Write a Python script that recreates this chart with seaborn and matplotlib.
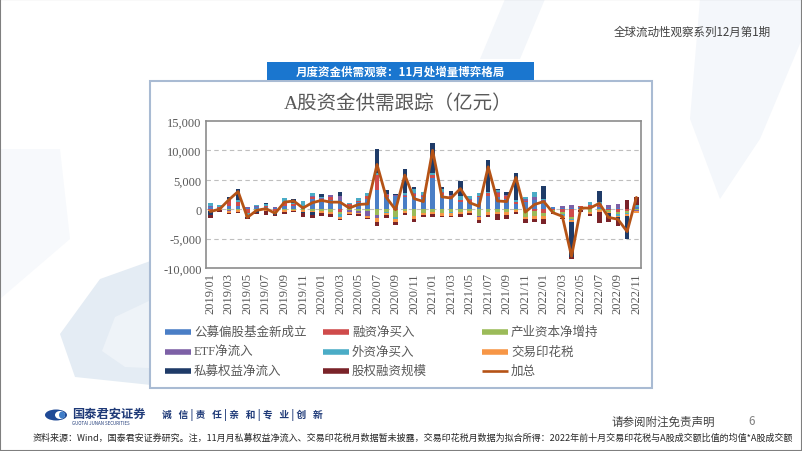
import numpy as np
import pandas as pd
import matplotlib
matplotlib.use("Agg")
import matplotlib.pyplot as plt
import seaborn as sns
from matplotlib.patches import Rectangle, Polygon, Ellipse
from matplotlib.lines import Line2D

# ---------------- data (亿元) ----------------
months = [f"{y}/{m:02d}" for y in range(2019, 2023) for m in range(1, 13)][:47]

fund = [300, 200, 500, 600, 200, 300, 300, 200, 600, 500, 400, 1800,
        1400, 1600, 1600, 500, 1200, 1800, 3200, 2000, 2200, 2000, 2200, 2000,
        5300, 2500, 2000, 1200, 1200, 2000, 2200, 2000, 1800, 900, 1200, 1600,
        1300, 300, 200, 200, 300, 200, 300, 200, 200, 0, 300]
margin = [-100, 100, 1100, 700, -600, 100, 200, -300, 500, 300, 100, 300,
          300, 500, -400, 300, 200, 500, 2700, 500, -100, 300, 400, 300,
          500, 300, 200, 300, 400, 300, 600, 700, 400, 300, 200, -300,
          -700, -200, -500, -1400, 200, 500, 300, -100, -500, -300, 0]
industry = [-100, -50, -200, -100, -100, -100, -100, -100, -200, -100, -200, -300,
            -300, -400, -500, -200, -300, -300, -1000, -500, -1300, -300, -1200, -600,
            -400, -700, -500, -500, -300, -1100, -400, -400, -500, -200, -1300, -900,
            -500, -200, -300, -200, 0, -400, -200, -300, -300, -300, -200]
etf = [200, 100, -100, 0, 100, 100, 0, 200, 100, 100, 100, 200,
       200, 300, 600, -300, -300, -800, -500, 100, 200, 200, 100, 200,
       0, 200, 300, 100, 100, -300, -100, 200, 200, 100, 300, 400,
       300, 100, 300, 500, 0, -100, 200, 500, 700, 0, -100]
foreign = [600, 300, 200, 300, -300, 200, 300, 0, 700, 200, 800, 400,
           200, -100, -400, 300, 500, 500, 300, -100, -300, 200, 800, 400,
           400, 500, -200, 600, 500, 500, 200, 300, 100, 200, 300, 900,
           200, 0, -400, -300, 0, 600, 500, 0, -300, -200, 400]
stamp = [-150, -150, -350, -300, -250, -200, -200, -200, -250, -150, -200, -250,
         -300, -400, -400, -250, -250, -350, -600, -450, -400, -300, -400, -400,
         -500, -400, -400, -350, -350, -400, -500, -500, -500, -300, -450, -450,
         -400, -300, -350, -300, -200, -300, -300, -300, -300, -300, -300]
private = [-700, 0, 300, 1800, -200, -300, 200, -400, -100, 700, -300, -400,
           500, 100, 800, 0, 0, 0, 4100, 600, 200, 4100, 300, 0,
           5100, 300, 600, 2600, 0, 0, 5300, 300, 500, 4600, 0, 0,
           2200, 0, 0, -6000, 0, 0, 1800, -500, -500, -4000, 0]
equity_fin = [-400, -300, -100, -200, -300, -300, -700, -200, -300, -200, -600, -600,
              -500, -400, -200, -200, -300, -300, -700, -400, -600, -400, -500, -400,
              -400, -300, -300, -400, -400, -500, -300, -1000, -700, -400, -600, -600,
              -1000, -200, -200, -300, -200, -400, -1800, -900, -1000, 1500, 1400]
total = [-400, 0, 1600, 3000, -1400, -200, 100, -700, 1200, 1400, 200, 1100,
         1500, 1200, 1200, 200, 800, 900, 7600, 2000, -100, 5800, 1800, 1300,
         10000, 2100, 1900, 3500, 1100, 500, 7200, 1400, 1300, 5400, -500, 800,
         1300, -600, -1200, -8000, 200, 200, 1000, -1400, -1700, -3800, 2000]

series_names = ["公募偏股基金新成立", "融资净买入", "产业资本净增持", "ETF净流入",
                "外资净买入", "交易印花税", "私募权益净流入", "股权融资规模"]
series_vals = [fund, margin, industry, etf, foreign, stamp, private, equity_fin]
series_cols = ["#4A7EC6", "#CF4B4B", "#9BBB59", "#7D60A6",
               "#4BACC6", "#F79646", "#1F3B68", "#7A2329"]
line_name = "加总"
line_col = "#B55316"

ytick_vals = [15000, 10000, 5000, 0, -5000, -10000]

# ---------------- figure ----------------
sns.set_theme(style="white")
plt.rcParams["font.family"] = ["Liberation Serif", "Noto Sans CJK SC", "DejaVu Sans"]
plt.rcParams["axes.unicode_minus"] = False

W, H = 802, 452
fig = plt.figure(figsize=(W / 100, H / 100), dpi=100)
fig.patch.set_facecolor("white")

def fx(x):
    return x / W

def fy(y):
    return 1 - y / H

sans = ["Noto Sans CJK SC", "DejaVu Sans"]

def poly(pts, color, z=0):
    fig.patches.append(Polygon([(fx(a), fy(b)) for a, b in pts], closed=True,
                               transform=fig.transFigure, facecolor=color,
                               edgecolor="none", zorder=z))

# faint slide watermark shapes
poly([(505, 0), (545, 0), (520, 60), (480, 60)], "#F3F6FA")
poly([(700, 0), (802, 0), (802, 40), (760, 140), (720, 200), (690, 120)], "#F4F7FB")
poly([(170, 255), (100, 280), (60, 335), (75, 378), (170, 388)], "#E4ECF4")
poly([(170, 292), (115, 318), (102, 352), (125, 368), (170, 370)], "#EEF3F8")
poly([(0, 150), (60, 150), (70, 240), (0, 300)], "#F7F9FC")

# slide border
fig.patches.append(Rectangle((0, 0), 1, 1, transform=fig.transFigure, fill=False,
                             edgecolor="#7F7F7F", lw=1.5, zorder=10))

# header text
fig.text(fx(771), fy(32), "全球流动性观察系列12月第1期", ha="right", va="center",
         fontsize=8.3, color="#404040", family=sans)

# chart box
fig.patches.append(Rectangle((fx(150), fy(389)), (652 - 150) / W, (389 - 82) / H,
                             transform=fig.transFigure, facecolor="white",
                             edgecolor="#A9BBD3", lw=1.5, zorder=1))
# banner
fig.patches.append(Rectangle((fx(267), fy(81)), (534 - 267) / W, (81 - 62.5) / H,
                             transform=fig.transFigure, facecolor="#1A76CF",
                             edgecolor="none", zorder=2))
fig.text(fx(400), fy(72), "月度资金供需观察：11月处增量博弈格局", ha="center", va="center",
         fontsize=8.3, color="white", fontweight="bold", family=sans, zorder=3)

# chart title
fig.text(fx(398), fy(104), "A股资金供需跟踪（亿元）", ha="center", va="center",
         fontsize=14, color="#595959", zorder=3)

# axes
ax = fig.add_axes([fx(205.7), fy(269), (641 - 205.7) / W, (269 - 122) / H], zorder=4)
ax.set_facecolor("none")
x = np.arange(len(months))
pos_base = np.zeros(len(months))
neg_base = np.zeros(len(months))
for name, vals, col in zip(series_names, series_vals, series_cols):
    v = np.array(vals, dtype=float)
    bottom = np.where(v >= 0, pos_base, neg_base)
    ax.bar(x, v, bottom=bottom, width=0.5, color=col, linewidth=0, zorder=3)
    pos_base = pos_base + np.where(v >= 0, v, 0)
    neg_base = neg_base + np.where(v < 0, v, 0)

df_line = pd.DataFrame({"x": x, "total": total})
sns.lineplot(data=df_line, x="x", y="total", ax=ax, color=line_col, linewidth=2.0,
             zorder=4, solid_joinstyle="round", solid_capstyle="round")

ax.set_xlim(-0.5, len(months) - 0.5)
ax.set_ylim(-10000, 15000)
ax.set_yticks(ytick_vals)
ax.set_yticklabels([f"{v:,}" for v in ytick_vals], fontsize=9, color="#595959")
ax.set_xticks(x[::2])
ax.set_xticklabels(months[::2], rotation=90, fontsize=9, color="#595959")
ax.tick_params(axis="both", length=0, pad=3)
ax.set_xlabel("")
ax.set_ylabel("")
for yv in [10000, 5000, 0, -5000]:
    ax.axhline(yv, color="#BFBFBF", lw=0.8, ls=(0, (4, 3)), zorder=1)
for s in ax.spines.values():
    s.set_visible(True)
    s.set_color("#8C8C8C")
    s.set_linewidth(1.2)

# legend (manual layout)
col_x = [165, 323, 482]
row_y = [333, 352.5, 371.5]
items = list(zip(series_names, series_cols, ["bar"] * 8)) + [(line_name, line_col, "line")]
for i, (name, col, kind) in enumerate(items):
    r, c = divmod(i, 3)
    x0 = col_x[c]
    y0 = row_y[r]
    lw = 4 if kind == "bar" else 1.9
    fig.add_artist(Line2D([fx(x0), fx(x0 + 26)], [fy(y0), fy(y0)], color=col,
                          lw=lw, solid_capstyle="butt", transform=fig.transFigure, zorder=5))
    fig.text(fx(x0 + 29), fy(y0), name, ha="left", va="center", fontsize=9,
             color="#595959", zorder=5)

# footer
fig.patches.append(Ellipse((fx(56), fy(416)), 22 / W, 11 / H, transform=fig.transFigure,
                           facecolor="#1F4A96", edgecolor="none", zorder=3))
fig.patches.append(Ellipse((fx(60), fy(416)), 10 / W, 8 / H, transform=fig.transFigure,
                           facecolor="white", edgecolor="none", zorder=4))
fig.patches.append(Ellipse((fx(62), fy(416)), 6 / W, 7 / H, transform=fig.transFigure,
                           facecolor="#3E7CC8", edgecolor="none", zorder=5))
fig.text(fx(72), fy(414), "国泰君安证券", ha="left", va="center", fontsize=8.8,
         fontweight="bold", color="#1F3A78", family=sans)
fig.text(fx(72), fy(424), "GUOTAI JUNAN SECURITIES", ha="left", va="center", fontsize=3.2,
         color="#1F3A78", family=sans)
fig.text(fx(162), fy(415), "诚   信 | 责   任 | 亲   和 | 专   业 | 创   新", ha="left", va="center",
         fontsize=7, fontweight="bold", color="#1F3A78", family=sans)
fig.text(fx(611), fy(422), "请参阅附注免责声明", ha="left", va="center", fontsize=8.3,
         color="#404040", family=sans)
fig.text(fx(748), fy(422), "6", ha="left", va="center", fontsize=8.3,
         color="#7F7F7F", family=sans)
fig.text(fx(33), fy(438),
         "资料来源：Wind，国泰君安证券研究。注，11月月私募权益净流入、交易印花税月数据暂未披露，"
         "交易印花税月数据为拟合所得：2022年前十月交易印花税与A股成交额比值的均值*A股成交额",
         ha="left", va="center", fontsize=6.5, color="#262626", family=sans)

fig.savefig("out.png", dpi=100)
